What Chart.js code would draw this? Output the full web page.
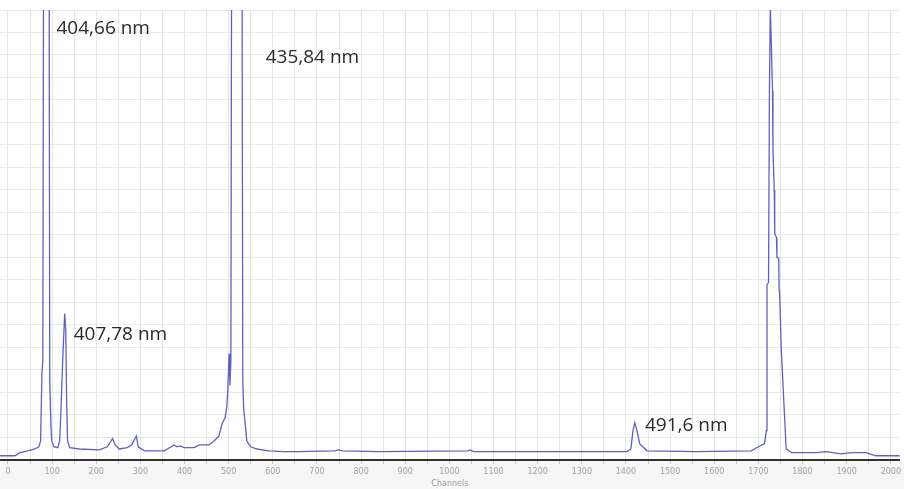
<!DOCTYPE html>
<html>
<head>
<meta charset="utf-8">
<script src="https://cdn.jsdelivr.net/npm/chart.js@4/dist/chart.umd.min.js"></script>
<style>
  html, body { margin: 0; padding: 0; background: #ffffff; }
  #wrap { width: 904px; height: 489px; }
</style>
</head>
<body>
<div id="wrap"><canvas id="c" width="904" height="489"></canvas></div>
<script>
// ---- data ----
const channels = [-18,16,27,45,61,70,74,77,79,81,93,94.7,97,99,104,113,117,119.5,124,128.5,131,133,135,140,162,207,225,237,243,252,270,280,291,295,309,354,370,376,383,390,399,422,433,455,467,478,485,492,496,498,501,503,505,507,530,532,534,539,541,550,564,591,625,658,740,749,758,839,1042,1048,1055,1402,1411,1416,1420,1425,1431,1448,1560,1684,1700,1714,1718,1719.5,1723,1725,1727,1732,1733,1736,1737,1741,1742,1746,1747,1748,1752,1759,1763,1775,1831,1853,1887,1910,1944,1966,2020];
const counts = [0.9,0.9,1.6,2.0,2.4,2.9,4.2,19.4,22,130,130,17.6,8.7,4.2,2.9,2.7,4.2,9.4,22,32.5,28.7,13,4.2,2.7,2.4,2.2,2.9,4.7,3.3,2.4,2.7,3.3,5.3,2.9,2.0,2.0,2.9,3.3,2.9,3.1,2.7,2.7,3.3,3.3,4.2,5.3,8.0,9.4,12,15.4,23.6,16.5,22,130,130,17.6,11.4,6.5,4.2,2.9,2.4,2.0,1.8,1.8,2.0,2.2,2.0,1.8,2.0,2.2,1.8,1.8,2.4,6.5,8.2,6.5,3.6,2.0,1.8,2.0,2.9,3.6,6.5,39,39.4,82,101,82,69,60,50.3,49.4,45,44.8,37.6,37.2,24.3,10.2,2.4,1.6,1.6,1.8,1.3,1.6,1.6,0.9,0.9];

const xTickLabels = ['0','100','200','300','400','500','600','700','800','900','1000','1100','1200','1300','1400','1500','1600','1700','1800','1900','2000'];
const xAxisTitle = 'Channels';

const peakLabels = ['404,66 nm', '435,84 nm', '407,78 nm', '491,6 nm'];
const peakLabelChannels = [110, 584, 149, 1443];
const peakLabelCounts = [95.8, 89.5, 27.8, 7.6];

// ---- chart ----
const points = channels.map((c, i) => ({ x: c, y: counts[i] }));
const labelSet = new Set(xTickLabels.map(Number));

const bottomBand = {
  id: 'bottomBand',
  beforeDraw(chart) {
    const { ctx, chartArea } = chart;
    ctx.save();
    ctx.fillStyle = '#f6f6f6';
    ctx.fillRect(0, chartArea.bottom, chart.width, chart.height - chartArea.bottom);
    ctx.restore();
  }
};

const peakText = {
  id: 'peakText',
  afterDatasetsDraw(chart) {
    const { ctx, scales } = chart;
    ctx.save();
    ctx.font = '19px "Open Sans", "Noto Sans", sans-serif';
    ctx.fillStyle = '#2a2a2a';
    ctx.textAlign = 'left';
    ctx.textBaseline = 'middle';
    peakLabels.forEach((t, i) => {
      ctx.fillText(t, scales.x.getPixelForValue(peakLabelChannels[i]), scales.y.getPixelForValue(peakLabelCounts[i]));
    });
    ctx.restore();
  }
};

new Chart(document.getElementById('c'), {
  type: 'scatter',
  data: {
    datasets: [{
      data: points,
      showLine: true,
      borderColor: '#6060c0',
      borderWidth: 1.3,
      pointRadius: 0,
      tension: 0,
      fill: false
    }]
  },
  options: {
    responsive: false,
    animation: false,
    devicePixelRatio: 1,
    layout: { padding: { top: 10, left: 0, right: 0, bottom: 0 } },
    plugins: { legend: { display: false }, tooltip: { enabled: false } },
    scales: {
      x: {
        type: 'linear',
        min: -18,
        max: 2020,
        afterBuildTicks(scale) {
          const t = [];
          for (let v = 0; v <= 2000; v += 50) t.push({ value: v });
          scale.ticks = t;
        },
        ticks: {
          autoSkip: false,
          maxRotation: 0,
          padding: 3,
          font: { size: 8, family: '"DejaVu Sans", sans-serif' },
          color: '#a0a0a0',
          callback: (v) => labelSet.has(v) ? String(v) : ''
        },
        grid: { color: '#e6e6e6', lineWidth: 1, tickLength: 4, tickColor: '#c4c4c4' },
        border: { display: true, color: '#303030', width: 2 },
        title: {
          display: true,
          text: xAxisTitle,
          color: '#9a9a9a',
          font: { size: 8, family: '"DejaVu Sans", sans-serif' },
          padding: { top: 0, bottom: 0 }
        }
      },
      y: {
        type: 'linear',
        min: 0,
        max: 100,
        ticks: { display: false, stepSize: 5 },
        grid: { color: '#e8e8e8', lineWidth: 1, drawTicks: false },
        border: { display: false }
      }
    }
  },
  plugins: [bottomBand, peakText]
});
</script>
</body>
</html>
